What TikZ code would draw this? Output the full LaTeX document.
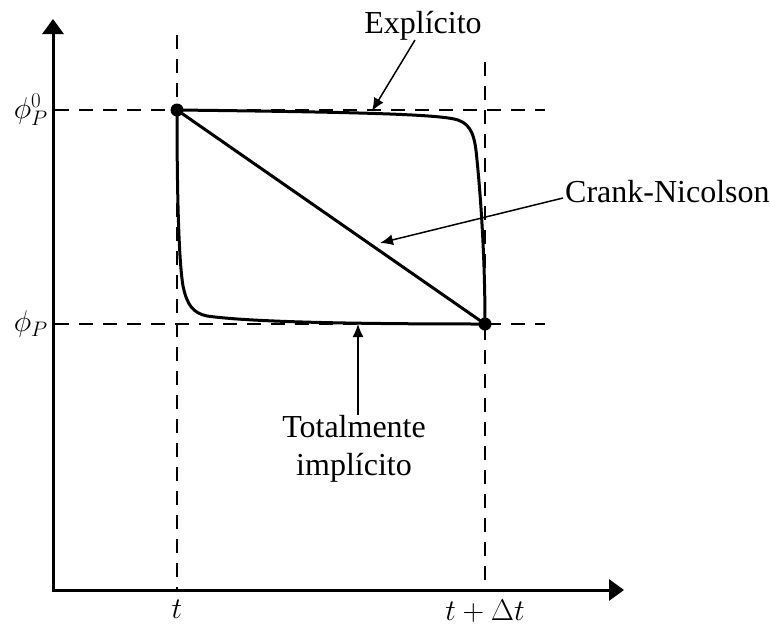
\RequirePackage{fix-cm}
\documentclass[tikz,border=0pt]{standalone}
\usepackage{fontspec}
\setmainfont{Liberation Serif}
\usetikzlibrary{arrows.meta}
\tikzset{
  axis/.style={line width=3pt,-{Triangle[length=15pt,width=21pt]}},
  guide/.style={line width=1.4pt,dash pattern=on 14pt off 10pt},
  curve/.style={line width=3pt},
  note/.style={line width=1.5pt,-{Latex[length=13pt,width=11pt]}},
  lbl/.style={font=\fontsize{30}{38}\selectfont,inner sep=0pt},
  txt/.style={font=\fontsize{32}{38}\selectfont,inner sep=0pt},
  pt/.style={circle,fill=black,inner sep=0pt,minimum size=13pt}
}
\begin{document}
\begin{tikzpicture}[x=1pt,y=-1pt]
\useasboundingbox (0,0) rectangle (770,627);
% coordinates
\coordinate (O) at (53,590);
\coordinate (ytop) at (53,19);
\coordinate (xend) at (624,590);
\coordinate (tTop) at (177,35);
\coordinate (tBot) at (177,590);
\coordinate (dTop) at (485,62);
\coordinate (dBot) at (485,590);
\coordinate (h0L) at (55,110);
\coordinate (h0R) at (545,110);
\coordinate (h1L) at (55,324);
\coordinate (h1R) at (545,324);
% guides
\draw[guide] (tTop) -- (tBot);
\draw[guide] (dTop) -- (dBot);
\draw[guide] (h0L) -- (h0R);
\draw[guide] (h1L) -- (h1R);
% axes
\draw[axis] (O) -- (ytop);
\draw[axis] ([xshift=-1.5pt]O) -- (xend);
% points
\node[pt] (A) at (177,110) {};
\node[pt] (B) at (485,324) {};
% curves
\draw[curve] (A.center) .. controls (350,112) and (440,114) .. (458,120)
  .. controls (472,125) and (475,137) .. (477,160)
  .. controls (481,200) and (485,260) .. (B.center);
\draw[curve] (A.center) .. controls (177,200) and (179,262) .. (183,286)
  .. controls (187,305) and (193,313) .. (207,316)
  .. controls (250,322) and (350,324) .. (B.center);
\draw[curve] (A.center) -- (B.center);
% axis labels
\node[lbl,anchor=east] (phi0) at (48,110) {$\phi_P^0$};
\node[lbl,anchor=east] (phi) at (48,324) {$\phi_P$};
\node[lbl,anchor=north] (tl) at (177,600) {$t$};
\node[lbl,anchor=north] (tdl) at (485,600) {$t+\Delta t$};
% annotations
\node[txt,anchor=base] (ex) at (423,33) {Explícito};
\node[txt,anchor=base west] (cn) at (565,202) {Crank-Nicolson};
\node[txt,align=center,anchor=north] (ti) at (354,415) {Totalmente\\implícito};
\coordinate (exS) at (415,40);
\coordinate (exE) at (372,111);
\coordinate (cnS) at (563,198);
\coordinate (cnE) at (380,243);
\coordinate (tiE) at (358,324);
\draw[note] (exS) -- (exE);
\draw[note] (cnS) -- (cnE);
\draw[note] (ti.north -| tiE) -- (tiE);
\end{tikzpicture}
\end{document}
